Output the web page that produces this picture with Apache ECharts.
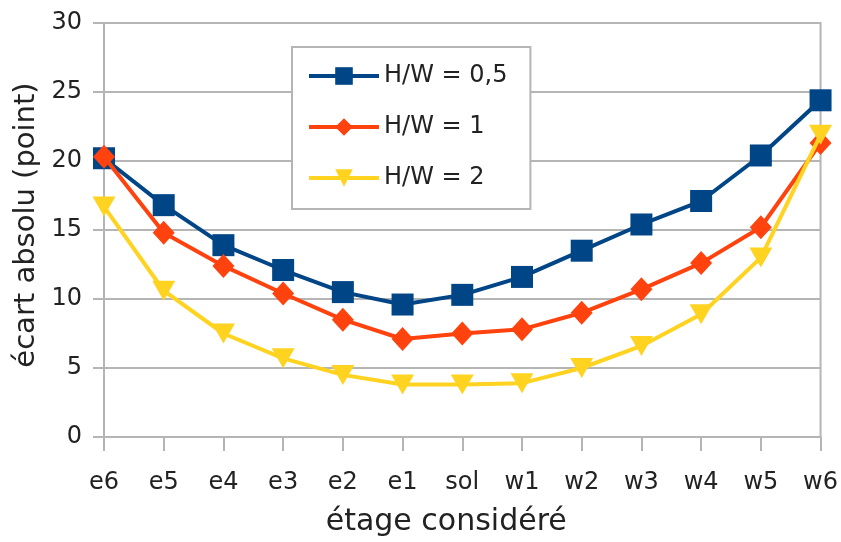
<!DOCTYPE html>
<html>
<head>
<meta charset="utf-8">
<script src="https://cdn.jsdelivr.net/npm/echarts@6/dist/echarts.min.js"></script>
<style>html,body{margin:0;padding:0;background:#fff}#c{width:841px;height:542px}</style>
</head>
<body>
<div id="c"></div>
<script>
var categories = ['e6','e5','e4','e3','e2','e1','sol','w1','w2','w3','w4','w5','w6'];
var seriesNames = ['H/W = 0,5', 'H/W = 1', 'H/W = 2'];
var hw05 = [20.2, 16.8, 13.9, 12.1, 10.5, 9.6, 10.3, 11.6, 13.5, 15.4, 17.1, 20.4, 24.4];
var hw1  = [20.3, 14.8, 12.4, 10.4, 8.5, 7.1, 7.5, 7.8, 9.0, 10.7, 12.6, 15.2, 21.3];
var hw2  = [16.7, 10.6, 7.5, 5.7, 4.5, 3.8, 3.8, 3.9, 5.0, 6.6, 8.9, 13.0, 21.9];
var yTicks = [0, 5, 10, 15, 20, 25, 30];
var xTitle = 'étage considéré';
var yTitle = 'écart absolu (point)';

var font = 'DejaVu Sans';
var gridColor = '#b5b5b5';
var textColor = '#222';
var chart = echarts.init(document.getElementById('c'), null, {renderer: 'canvas'});
chart.setOption({
  animation: false,
  backgroundColor: '#fff',
  textStyle: {fontFamily: font},
  grid: {left: 104, right: 20, top: 23, bottom: 104, show: true, borderColor: gridColor, borderWidth: 2, containLabel: false},
  legend: {
    orient: 'vertical', left: 292, top: 47,
    padding: [17, 23, 19, 15],
    backgroundColor: '#fff', borderColor: gridColor, borderWidth: 2,
    itemWidth: 70, itemHeight: 22, itemGap: 27,
    lineStyle: {width: 4},
    textStyle: {fontFamily: font, fontSize: 24, color: textColor, lineHeight: 24},
    data: seriesNames
  },
  xAxis: {
    type: 'category', data: categories, boundaryGap: false,
    name: xTitle, nameLocation: 'middle', nameGap: 70,
    nameTextStyle: {fontFamily: font, fontSize: 30, color: textColor, padding: [0, 32, 0, 0]},
    axisLine: {lineStyle: {color: gridColor, width: 2}},
    axisTick: {show: true, length: 14, lineStyle: {color: gridColor, width: 2}},
    axisLabel: {fontFamily: font, fontSize: 24, color: textColor, margin: 34},
    splitLine: {show: false}
  },
  yAxis: {
    type: 'value', min: yTicks[0], max: yTicks[yTicks.length-1], interval: 5,
    name: yTitle, nameLocation: 'middle', nameGap: 62,
    nameTextStyle: {fontFamily: font, fontSize: 29, color: textColor, padding: [0, 0, 0, 10]},
    axisLine: {show: true, lineStyle: {color: gridColor, width: 2}},
    axisTick: {show: true, length: 11, lineStyle: {color: gridColor, width: 2}},
    axisLabel: {fontFamily: font, fontSize: 24, color: textColor, margin: 22},
    splitLine: {lineStyle: {color: gridColor, width: 2}}
  },
  series: [
    {name: seriesNames[0], type: 'line', data: hw05, symbol: 'rect', symbolSize: 22,
     color: '#004586', lineStyle: {width: 4, color: '#004586'}, itemStyle: {color: '#004586'}, z: 3},
    {name: seriesNames[1], type: 'line', data: hw1, symbol: 'diamond', symbolSize: [22, 24],
     color: '#ff420e', lineStyle: {width: 4, color: '#ff420e'}, itemStyle: {color: '#ff420e'}, z: 4},
    {name: seriesNames[2], type: 'line', data: hw2, symbol: 'triangle', symbolRotate: 180, symbolSize: [23, 20],
     color: '#ffd320', lineStyle: {width: 4, color: '#ffd320'}, itemStyle: {color: '#ffd320'}, z: 5}
  ]
});
</script>
</body>
</html>
